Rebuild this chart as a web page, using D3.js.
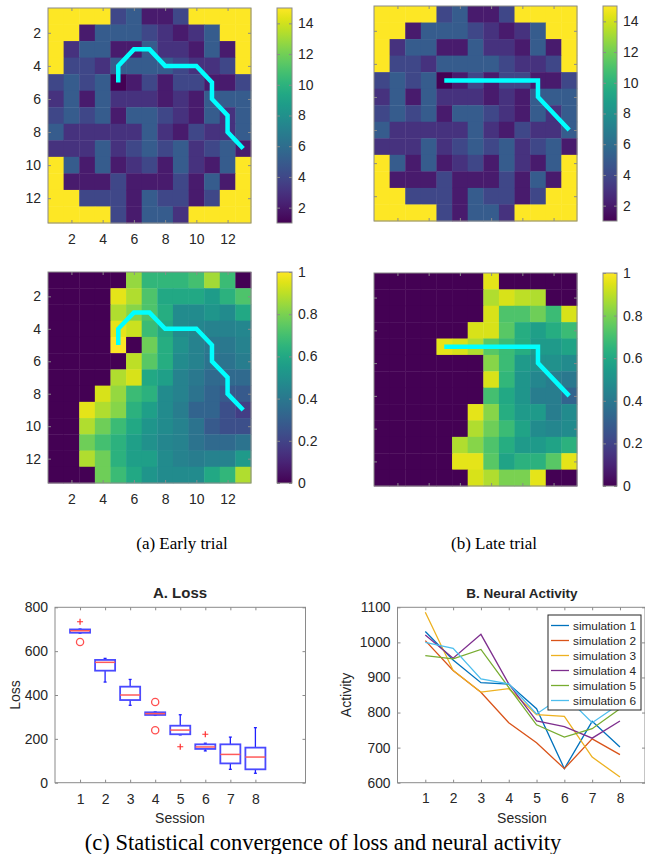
<!DOCTYPE html>
<html>
<head>
<meta charset="utf-8">
<script src="https://cdnjs.cloudflare.com/ajax/libs/d3/7.8.5/d3.min.js"></script>
<style>
body { margin: 0; background: #fff; }
text { font-family: "Liberation Sans", Arial, sans-serif; fill: #262626; }
.caption { font-family: "Liberation Serif", "Times New Roman", serif; fill: #000; font-size: 17px; }
</style>
</head>
<body>
<div id="chart"></div>
<script>
// Visit counts per cell (same map for both trials), 13 x 13, row by row
var visitCounts = [
	[15,15,15,15,4,5,2,2,4,15,15,15,15],
	[15,15,2,5,5,5,4,3,2,3,5,15,15],
	[15,3,5,5,2,2,5,3,3,2,5,2,15],
	[15,4,4,3,5,5,5,5,4,3,3,4,15],
	[4,5,4,5,1,2,4,2,4,4,2,2,4],
	[3,5,2,5,3,3,3,2,3,2,5,5,5],
	[4,5,4,5,2,5,5,4,3,2,5,3,5],
	[5,3,3,3,3,3,5,3,2,4,3,3,5],
	[3,3,3,5,3,4,5,4,5,3,4,5,2],
	[15,5,2,5,2,3,4,2,5,3,2,5,15],
	[15,2,2,2,4,2,2,2,4,2,5,2,15],
	[15,15,4,4,4,2,5,4,4,2,4,15,15],
	[15,15,15,15,4,2,5,5,3,15,15,15,15]
];
// Value map, early trial
var earlyValues = [
	[0,0,0,0,0,0.84,0.66,0.66,0.66,0.7,0.86,0.68,0],
	[0,0,0,0,0.96,0.88,0.72,0.6,0.6,0.6,0.55,0.64,0.72],
	[0,0,0,0,0.88,0.82,0.72,0.62,0.48,0.48,0.52,0.48,0.6],
	[0,0,0,0,0.96,0.92,0.68,0.6,0.48,0.46,0.44,0.44,0.46],
	[0,0,0,0,1.0,0,0.78,0.62,0.5,0.44,0.4,0.4,0.44],
	[0,0,0,0,0,0.9,0.74,0.62,0.48,0.44,0.38,0.38,0.42],
	[0,0,0,0,0.88,0.94,0.6,0.56,0.44,0.4,0.34,0.34,0.34],
	[0,0,0,0.94,0.84,0.68,0.64,0.48,0.44,0.38,0.32,0.28,0.28],
	[0,0,0.96,0.88,0.82,0.64,0.56,0.48,0.42,0.32,0.32,0.24,0.18],
	[0,0,0.88,0.78,0.68,0.6,0.52,0.48,0.44,0.38,0.28,0.24,0.24],
	[0,0,0.78,0.7,0.64,0.56,0.5,0.46,0.44,0.38,0.34,0.34,0.38],
	[0,0,0.88,0.78,0.64,0.56,0.56,0.48,0.44,0.42,0.44,0.44,0.54],
	[0,0,0,0.78,0.68,0.6,0.52,0.48,0.48,0.48,0.6,0.66,0.88]
];
// Value map, late trial
var lateValues = [
	[0,0,0,0,0,0,0,0.96,0,0,0,0,0],
	[0,0,0,0,0,0,0,0.88,0.94,0.9,0.88,0,0],
	[0,0,0,0,0,0,0,0.94,0.72,0.72,0.78,0.68,0.94],
	[0,0,0,0,0,0,0.94,0.94,0.74,0.62,0.56,0.62,0.68],
	[0,0,0,0,0.96,0.94,0.88,0.74,0.68,0.62,0.54,0.54,0.58],
	[0,0,0,0,0,0,0,0.82,0.68,0.54,0.5,0.5,0.48],
	[0,0,0,0,0,0,0,0.94,0.66,0.52,0.46,0.42,0.4],
	[0,0,0,0,0,0,0,0.7,0.6,0.52,0.42,0.42,0.32],
	[0,0,0,0,0,0,0.96,0.82,0.62,0.54,0.54,0.42,0.48],
	[0,0,0,0,0,0,0.88,0.78,0.68,0.58,0.48,0.46,0.48],
	[0,0,0,0,0,0.88,0.82,0.72,0.62,0.54,0.54,0.58,0.64],
	[0,0,0,0,0,0.96,0.96,0.74,0.58,0.64,0.64,0.74,0.96],
	[0,0,0,0,0,0,0.94,0.88,0.8,0.8,0.96,0,0]
];
// Agent trajectories as [column, row]
var earlyPath = [[5,5],[5,4],[6,3],[7,3],[8,4],[10,4],[11,5],[11,6],[12,7],[12,8],[13,9]];
var latePath = [[5,5],[11,5],[11,6],[13,8]];
var gridTicks = [2,4,6,8,10,12];
var countTicks = [2,4,6,8,10,12,14];
var valueTicks = [0,0.2,0.4,0.6,0.8,1];

// Loss box plot per session
var sessions = [1,2,3,4,5,6,7,8];
var lossWhiskerLow = [682,459,353,307,218,145,61,43];
var lossQ1 = [684,511,377,309,221,154,88,61];
var lossMedian = [693,549,400,315,240,163,129,117];
var lossQ3 = [699,560,438,321,260,175,175,160];
var lossWhiskerHigh = [701,567,471,323,310,180,208,251];
var lossPlus = [[1,734],[5,164],[6,221]];
var lossCircle = [[1,642],[4,368],[4,239]];

// Neural activity per session
var simNames = ["simulation 1","simulation 2","simulation 3","simulation 4","simulation 5","simulation 6"];
var sim1 = [1031,950,885,881,811,640,775,702];
var sim2 = [1005,920,858,771,714,640,725,680];
var sim3 = [1086,920,858,868,794,789,673,616];
var sim4 = [1021,955,1023,882,776,760,727,776];
var sim5 = [962,953,980,872,765,730,754,811];
var sim6 = [1000,983,896,882,796,850,771,825];
var simColors = ["#0072BD","#D95319","#EDB120","#7E2F8E","#77AC30","#4DBEEE"];

const W = 645, H = 854;
const axisColor = "#8a8a8a";
const svg = d3.select("#chart").append("svg").attr("width", W).attr("height", H);

// viridis gradient for the colorbars
const grad = svg.append("defs").append("linearGradient")
	.attr("id", "viridis").attr("x1", 0).attr("x2", 0).attr("y1", 1).attr("y2", 0);
d3.range(0, 1.0001, 0.05).forEach(t => {
	grad.append("stop").attr("offset", t).attr("stop-color", d3.interpolateViridis(t));
});

function styleAxis(sel, fontSize) {
	sel.select(".domain").remove();
	sel.selectAll(".tick line").attr("stroke", axisColor);
	sel.selectAll(".tick text").attr("font-size", fontSize).attr("fill", "#262626")
		.style("font-family", "'Liberation Sans', Arial, sans-serif");
}

function boxAxes(g, x, y, xt, yt, labels, fontSize) {
	const [x0, x1] = x.range();
	const [y1, y0] = y.range().slice().sort((a, b) => b - a);
	const fs = fontSize || 14;
	g.append("g").attr("transform", `translate(0,${y1})`)
		.call(d3.axisBottom(x).tickValues(xt).tickSize(-3).tickSizeOuter(0).tickPadding(11)
			.tickFormat(labels ? d3.format("") : ""))
		.call(s => styleAxis(s, fs));
	g.append("g").attr("transform", `translate(0,${y0})`)
		.call(d3.axisTop(x).tickValues(xt).tickSize(-3).tickSizeOuter(0).tickFormat(""))
		.call(s => styleAxis(s, fs));
	g.append("g").attr("transform", `translate(${x0},0)`)
		.call(d3.axisLeft(y).tickValues(yt).tickSize(-3).tickSizeOuter(0).tickPadding(7)
			.tickFormat(labels ? d3.format("") : ""))
		.call(s => styleAxis(s, fs));
	g.append("g").attr("transform", `translate(${x1},0)`)
		.call(d3.axisRight(y).tickValues(yt).tickSize(-3).tickSizeOuter(0).tickFormat(""))
		.call(s => styleAxis(s, fs));
	g.append("rect")
		.attr("x", x0).attr("y", y0).attr("width", x1 - x0).attr("height", y1 - y0)
		.attr("fill", "none").attr("stroke", axisColor).attr("stroke-width", 1);
}

function drawHeat(b, grid, domain, path, labels, cb, cbTicks, cbFmt) {
	const g = svg.append("g");
	const x = d3.scaleLinear().domain([0.5, 13.5]).range([b.x0, b.x1]);
	const y = d3.scaleLinear().domain([0.5, 13.5]).range([b.y0, b.y1]);
	const color = d3.scaleSequential(d3.interpolateViridis).domain(domain);
	const cells = [];
	grid.forEach((row, r) => row.forEach((v, c) => cells.push({r: r + 1, c: c + 1, v: v})));
	g.selectAll("rect.cell").data(cells).join("rect")
		.attr("class", "cell")
		.attr("x", d => x(d.c - 0.5))
		.attr("y", d => y(d.r - 0.5))
		.attr("width", x(1.5) - x(0.5) + 0.4)
		.attr("height", y(1.5) - y(0.5) + 0.4)
		.attr("fill", d => color(d.v));
	g.append("path")
		.datum(path)
		.attr("d", d3.line().x(d => x(d[0])).y(d => y(d[1])))
		.attr("fill", "none").attr("stroke", "#00ffff")
		.attr("stroke-width", 4.5).attr("stroke-linejoin", "miter");
	boxAxes(g, x, y, gridTicks, gridTicks, labels, 14);

	// colorbar
	const cy = d3.scaleLinear().domain(domain).range([b.y1, b.y0]);
	g.append("rect")
		.attr("x", cb.x0).attr("y", b.y0).attr("width", cb.x1 - cb.x0).attr("height", b.y1 - b.y0)
		.attr("fill", "url(#viridis)");
	g.append("g").attr("transform", `translate(${cb.x1},0)`)
		.call(d3.axisRight(cy).tickValues(cbTicks).tickSize(-3).tickSizeOuter(0).tickPadding(6)
			.tickFormat(cbFmt))
		.call(s => styleAxis(s, 14));
	g.append("g").attr("transform", `translate(${cb.x0},0)`)
		.call(d3.axisLeft(cy).tickValues(cbTicks).tickSize(-3).tickSizeOuter(0).tickFormat(""))
		.call(s => styleAxis(s, 14));
	g.append("rect")
		.attr("x", cb.x0).attr("y", b.y0).attr("width", cb.x1 - cb.x0).attr("height", b.y1 - b.y0)
		.attr("fill", "none").attr("stroke", axisColor);
}

const fmtInt = d3.format("d");
const fmtVal = d => d === 0 || d === 1 ? String(d) : d3.format(".1f")(d);

drawHeat({x0: 48, x1: 251, y0: 8, y1: 223}, visitCounts, [1, 15], earlyPath, true,
	{x0: 277, x1: 292}, countTicks, fmtInt);
drawHeat({x0: 374, x1: 577, y0: 6, y1: 221}, visitCounts, [1, 15], latePath, false,
	{x0: 603, x1: 617}, countTicks, fmtInt);
drawHeat({x0: 48, x1: 251, y0: 272, y1: 483}, earlyValues, [0, 1], earlyPath, true,
	{x0: 277, x1: 292}, valueTicks, fmtVal);
drawHeat({x0: 374, x1: 577, y0: 273, y1: 486}, lateValues, [0, 1], latePath, false,
	{x0: 603, x1: 617}, valueTicks, fmtVal);

svg.append("text").attr("class", "caption").attr("x", 182).attr("y", 549)
	.attr("text-anchor", "middle").text("(a) Early trial");
svg.append("text").attr("class", "caption").attr("x", 494).attr("y", 549)
	.attr("text-anchor", "middle").text("(b) Late trial");

// A. Loss box plot
{
	const g = svg.append("g");
	const x = d3.scaleLinear().domain([0, 10]).range([55, 305.5]);
	const y = d3.scaleLinear().domain([0, 800]).range([782.7, 607.3]);
	const hw = 0.4;
	const rows = sessions.map((s, i) => ({s: s, lo: lossWhiskerLow[i], q1: lossQ1[i], md: lossMedian[i],
		q3: lossQ3[i], hi: lossWhiskerHigh[i]}));
	const bg = g.selectAll("g.box").data(rows).join("g").attr("class", "box");
	bg.append("line").attr("x1", d => x(d.s)).attr("x2", d => x(d.s))
		.attr("y1", d => y(d.q3)).attr("y2", d => y(d.hi));
	bg.append("line").attr("x1", d => x(d.s)).attr("x2", d => x(d.s))
		.attr("y1", d => y(d.q1)).attr("y2", d => y(d.lo));
	bg.append("line").attr("x1", d => x(d.s) - 1.5).attr("x2", d => x(d.s) + 1.5)
		.attr("y1", d => y(d.hi)).attr("y2", d => y(d.hi));
	bg.append("line").attr("x1", d => x(d.s) - 1.5).attr("x2", d => x(d.s) + 1.5)
		.attr("y1", d => y(d.lo)).attr("y2", d => y(d.lo));
	bg.selectAll("line").attr("stroke", "#2020ff").attr("stroke-width", 1.3);
	bg.append("rect")
		.attr("x", d => x(d.s - hw)).attr("y", d => y(d.q3))
		.attr("width", d => x(d.s + hw) - x(d.s - hw)).attr("height", d => y(d.q1) - y(d.q3))
		.attr("fill", "none").attr("stroke", "#4a4aff").attr("stroke-width", 1.8);
	bg.append("line").attr("x1", d => x(d.s - hw)).attr("x2", d => x(d.s + hw))
		.attr("y1", d => y(d.md)).attr("y2", d => y(d.md))
		.attr("stroke", "#ff5a5a").attr("stroke-width", 1.5);
	g.selectAll("path.plus").data(lossPlus).join("path").attr("class", "plus")
		.attr("d", d => `M${x(d[0]) - 3},${y(d[1])}h6M${x(d[0])},${y(d[1]) - 3}v6`)
		.attr("stroke", "#ff3030").attr("stroke-width", 1.2);
	g.selectAll("circle.out").data(lossCircle).join("circle").attr("class", "out")
		.attr("cx", d => x(d[0])).attr("cy", d => y(d[1])).attr("r", 3.6)
		.attr("fill", "none").attr("stroke", "#ff5050").attr("stroke-width", 1.3);
	boxAxes(g, x, y, sessions, [0, 200, 400, 600, 800], true, 14);
	g.append("text").attr("x", 180).attr("y", 598).attr("text-anchor", "middle")
		.attr("font-size", 15).attr("font-weight", "bold").attr("fill", "#000").text("A. Loss");
	g.append("text").attr("x", 180).attr("y", 823).attr("text-anchor", "middle")
		.attr("font-size", 14).text("Session");
	g.append("text").attr("transform", "translate(20,695) rotate(-90)").attr("text-anchor", "middle")
		.attr("font-size", 14).text("Loss");
}

// B. Neural Activity
{
	const g = svg.append("g");
	const x = d3.scaleLinear().domain([0, 8.9]).range([397.5, 645]);
	const y = d3.scaleLinear().domain([600, 1100]).range([782.7, 607.3]);
	const series = [sim1, sim2, sim3, sim4, sim5, sim6];
	const line = d3.line().x((d, i) => x(sessions[i])).y(d => y(d));
	g.selectAll("path.sim").data(series).join("path").attr("class", "sim")
		.attr("d", line).attr("fill", "none")
		.attr("stroke", (d, i) => simColors[i]).attr("stroke-width", 1.3);
	boxAxes(g, x, y, sessions, [600, 700, 800, 900, 1000, 1100], true, 13.8);
	g.append("text").attr("x", 522).attr("y", 598).attr("text-anchor", "middle")
		.attr("font-size", 13.5).attr("font-weight", "bold").attr("fill", "#000").text("B. Neural Activity");
	g.append("text").attr("x", 522).attr("y", 823).attr("text-anchor", "middle")
		.attr("font-size", 14).text("Session");
	g.append("text").attr("transform", "translate(351,695) rotate(-90)").attr("text-anchor", "middle")
		.attr("font-size", 14).text("Activity");

	const lg = g.append("g");
	lg.append("rect").attr("x", 548).attr("y", 615).attr("width", 93).attr("height", 95)
		.attr("fill", "#fff").attr("stroke", "#262626").attr("stroke-width", 1);
	const item = lg.selectAll("g.item").data(simNames).join("g").attr("class", "item")
		.attr("transform", (d, i) => `translate(0,${625.5 + i * 15})`);
	item.append("line").attr("x1", 551).attr("x2", 569).attr("y1", 0).attr("y2", 0)
		.attr("stroke", (d, i) => simColors[i]).attr("stroke-width", 1.3);
	item.append("text").attr("x", 573).attr("y", 4).attr("font-size", 11.8).text(d => d);
}

svg.append("text").attr("class", "caption").attr("x", 323).attr("y", 850)
	.attr("text-anchor", "middle").style("font-size", "22.5px")
	.text("(c) Statistical convergence of loss and neural activity");
</script>
</body>
</html>
